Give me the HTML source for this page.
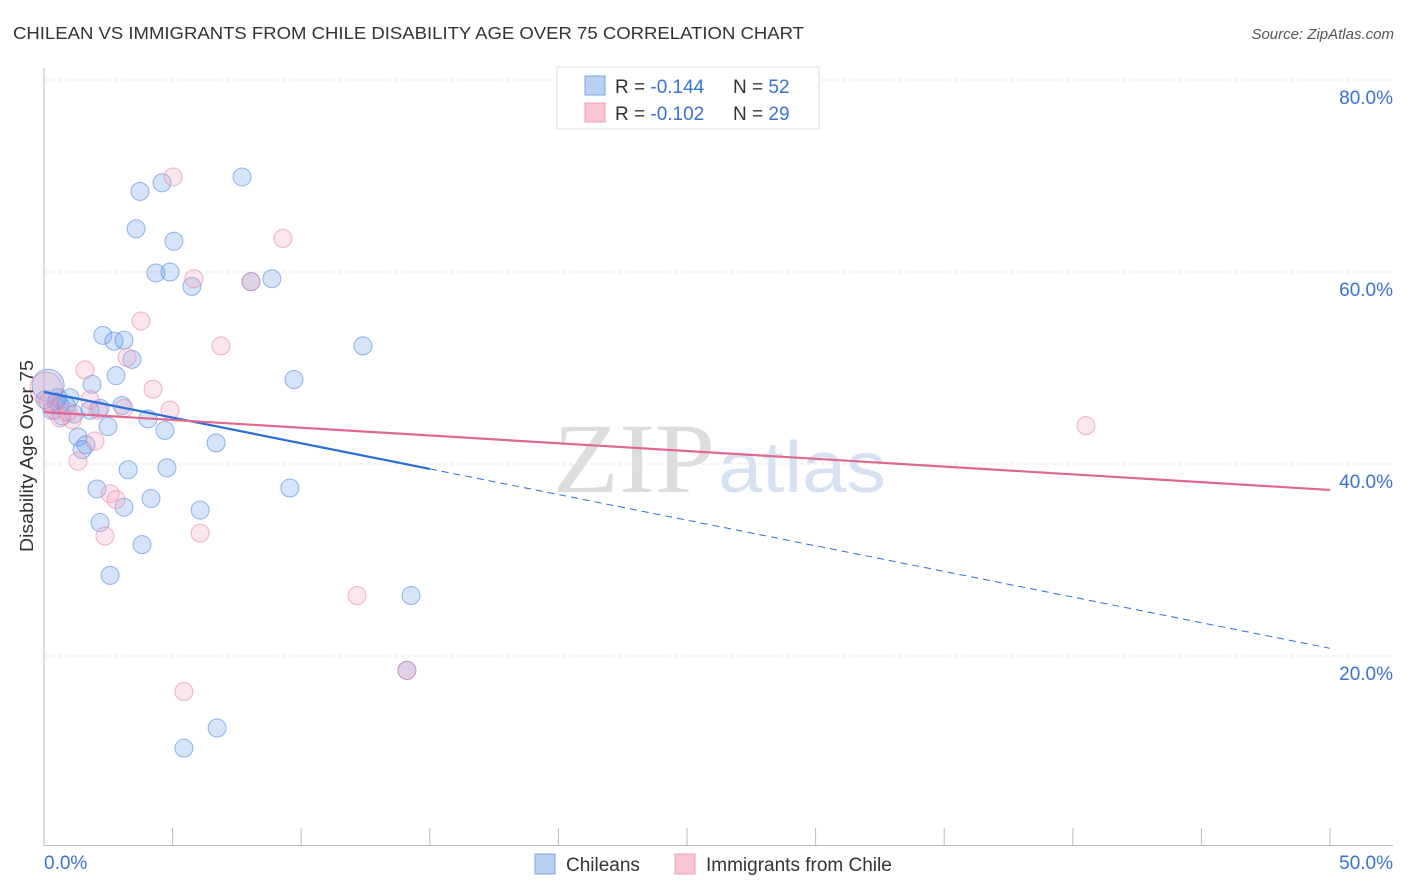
<!DOCTYPE html>
<html><head><meta charset="utf-8"><style>
body{margin:0;background:#fff;font-family:"Liberation Sans",sans-serif}
svg{display:block}
</style></head><body>
<svg id="chart" width="1406" height="892" xmlns="http://www.w3.org/2000/svg">
<text x="13" y="39" font-size="17.5" fill="#333" textLength="791" lengthAdjust="spacingAndGlyphs">CHILEAN VS IMMIGRANTS FROM CHILE DISABILITY AGE OVER 75 CORRELATION CHART</text>
<text x="1394" y="39" font-size="15" fill="#555" text-anchor="end" font-style="italic">Source: ZipAtlas.com</text>
<g>
<text x="553" y="492" font-size="100" fill="#ddd" font-family="Liberation Serif, serif" textLength="162" lengthAdjust="spacingAndGlyphs">ZIP</text>
<text x="718" y="492" font-size="72" fill="#d6e2f4" textLength="168" lengthAdjust="spacingAndGlyphs">atlas</text>
</g>
<g id="grid"></g>
<g id="axes"></g>
<g id="marks"></g>
<text transform="translate(33,456) rotate(-90)" font-size="18" fill="#333" text-anchor="middle" textLength="192" lengthAdjust="spacingAndGlyphs">Disability Age Over 75</text>
<g>
<rect x="557" y="67" width="262" height="62" fill="#fff" stroke="#ddd"/>
<rect x="585" y="76" width="20" height="19" fill="#b8d1f3" stroke="#7aa5e6"/>
<rect x="585" y="103" width="20" height="19" fill="#f9c6d4" stroke="#eea0b8"/>
<text x="615" y="93" font-size="19" fill="#333">R = <tspan fill="#3a72d0">-0.144</tspan></text>
<text x="733" y="93" font-size="19" fill="#333">N = <tspan fill="#3a72d0">52</tspan></text>
<text x="615" y="120" font-size="19" fill="#333">R = <tspan fill="#3a72d0">-0.102</tspan></text>
<text x="733" y="120" font-size="19" fill="#333">N = <tspan fill="#3a72d0">29</tspan></text>
</g>
<g>
<rect x="535" y="854" width="20" height="20" fill="#b8d1f3" stroke="#7aa5e6"/>
<text x="566" y="871" font-size="19" fill="#333">Chileans</text>
<rect x="675" y="854" width="20" height="20" fill="#f9c6d4" stroke="#eea0b8"/>
<text x="706" y="871" font-size="19" fill="#333">Immigrants from Chile</text>
</g>
</svg>
<script>
const blueX=[3.73,4.59,7.70,3.58,5.05,4.35,4.90,5.75,8.86,8.05,2.29,2.72,3.11,3.42,12.40,2.80,1.87,9.72,1.01,0.47,1.79,3.03,1.17,4.04,4.70,2.49,1.32,1.63,1.48,6.69,3.27,4.78,2.06,4.16,9.56,3.11,6.07,2.18,3.81,2.57,14.27,14.11,6.73,5.44,0.16,0.62,0.31,0.86,2.18,0.70,0.04,0.54];
const blueY=[68.4,69.3,69.9,64.5,63.2,59.9,60.0,58.5,59.3,59.0,53.4,52.8,52.9,50.9,52.3,49.2,48.3,48.8,46.9,46.5,45.6,46.1,45.2,44.7,43.5,43.9,42.8,42.0,41.5,42.2,39.4,39.6,37.4,36.4,37.5,35.5,35.2,33.9,31.6,28.4,26.3,18.5,12.5,10.4,48.2,46.1,45.6,46.1,45.8,45.0,46.7,46.9];
const pinkX=[5.02,9.29,5.83,8.05,3.77,6.88,3.23,1.59,4.24,4.90,1.79,2.10,3.11,1.09,1.98,1.32,2.57,2.80,2.37,6.07,12.17,14.11,5.44,40.51,0.08,0.43,0.62,0.93,0.16];
const pinkY=[69.9,63.5,59.3,59.0,54.9,52.3,51.1,49.8,47.8,45.6,46.7,45.6,45.8,44.6,42.4,40.3,36.9,36.3,32.5,32.8,26.3,18.5,16.3,44.0,47.9,45.6,44.8,45.4,46.5];
const yTicks=[20,40,60,80];
const yTickLabels=["20.0%","40.0%","60.0%","80.0%"];
const xTicks=[0,5,10,15,20,25,30,35,40,45,50];
const blueTrend=[47.5,20.8];
const blueSolidEnd=15;
const pinkTrend=[45.4,37.3];
const blueBig=44, pinkBig=24;

const NS="http://www.w3.org/2000/svg";
const sx=v=>44+v*25.72;
const sy=v=>848-v*9.6;
function mk(tag,attrs,parent){const e=document.createElementNS(NS,tag);for(const k in attrs)e.setAttribute(k,attrs[k]);parent.appendChild(e);return e;}
const grid=document.getElementById('grid'),axes=document.getElementById('axes'),marks=document.getElementById('marks');
yTicks.forEach((t,i)=>{
 const l=mk('line',{x1:44,x2:1393,y1:sy(t),y2:sy(t),stroke:'#e6e6e6','stroke-dasharray':'4,3'},grid);
 
 
 const tx=mk('text',{x:1393,y:sy(t)+24,'font-size':19,fill:'#3a72d0','text-anchor':'end'},axes);
 tx.textContent=yTickLabels[i];
 
 
});
const ax=mk('line',{x1:44,x2:44,y1:68,y2:846,stroke:'#bbb'},axes);


const bx=mk('line',{x1:44,x2:1393,y1:845.5,y2:845.5,stroke:'#bbb'},axes);


xTicks.forEach(t=>{
 const l=mk('line',{x1:sx(t),x2:sx(t),y1:828,y2:845,stroke:'#bbb'},axes);
 
 
});
const xl0=mk('text',{x:44,y:869,'font-size':19,fill:'#3a72d0'},axes);xl0.textContent=xTicks[0].toFixed(1)+'%';


const xl1=mk('text',{x:1393,y:869,'font-size':19,fill:'#3a72d0','text-anchor':'end'},axes);xl1.textContent=xTicks[xTicks.length-1].toFixed(1)+'%';



function dots(X,Y,fill,stroke,name,big){
 X.forEach((x,i)=>{
  const c=mk('circle',{cx:sx(x),cy:sy(Y[i]),r:i===big?16:9,fill:fill,stroke:stroke,'stroke-width':1},marks);
  
  
 });
}
dots(blueX,blueY,'rgba(120,165,235,0.3)','rgba(80,135,220,0.6)','chilean-point',blueBig);
dots(pinkX,pinkY,'rgba(245,165,195,0.28)','rgba(230,130,165,0.6)','immigrant-point',pinkBig);
const bt=v=>blueTrend[0]+(blueTrend[1]-blueTrend[0])*v/50;
const l1=mk('line',{x1:sx(0),y1:sy(bt(0)),x2:sx(blueSolidEnd),y2:sy(bt(blueSolidEnd)),stroke:'#2a6fd6','stroke-width':2.2},marks);


const l2=mk('line',{x1:sx(blueSolidEnd),y1:sy(bt(blueSolidEnd)),x2:sx(50),y2:sy(bt(50)),stroke:'#2a6fd6','stroke-width':1,'stroke-dasharray':'7,5'},marks);


const l3=mk('line',{x1:sx(0),y1:sy(pinkTrend[0]),x2:sx(50),y2:sy(pinkTrend[1]),stroke:'#e06890','stroke-width':2.2},marks);


</script>
</body></html>
